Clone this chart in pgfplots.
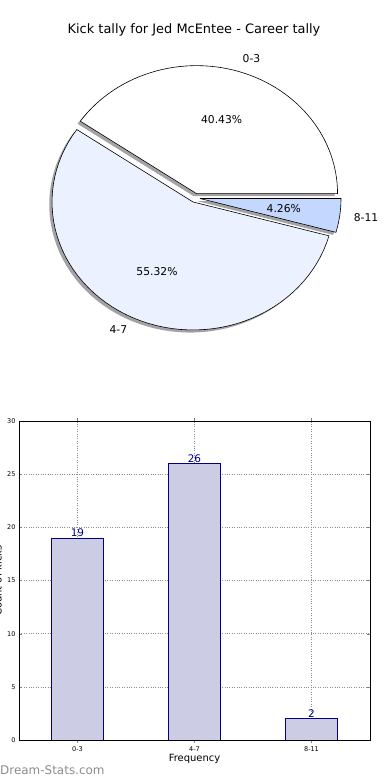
\documentclass[border=0pt]{standalone}
\usepackage{fontspec}
\setmainfont{DejaVu Sans}
\usepackage{pgfplots}
\usepackage{pgfplotstable}
\pgfplotsset{compat=1.18}
\definecolor{wB}{HTML}{EBF1FF}
\definecolor{wC}{HTML}{C4D8FF}
\definecolor{barfill}{HTML}{CCCCE5}
\definecolor{shadowc}{rgb}{0.64,0.64,0.65}
\definecolor{navyc}{HTML}{000080}

\pgfplotstableread{
cat count
0 19
1 26
2 2
}\kicks

% slice: cx cy start end style  (pixel coordinates, y downwards)
\newcommand{\pieslice}[5]{%
  \addplot[#5, domain=0:62, samples=63, variable=\t]
  ({ (\t<0.5 || \t>61.5) ? #1 : #1+141*cos(#3+(\t-1)*(#4-#3)/60) },
   { (\t<0.5 || \t>61.5) ? #2 : #2-128*sin(#3+(\t-1)*(#4-#3)/60) });
}

\begin{document}
\begin{tikzpicture}
\path[use as bounding box] (0,0) rectangle (390bp,780bp);
\clip (0,0) rectangle (390bp,780bp);
\pgfmathsetmacro\nA{19}
\pgfmathsetmacro\nB{26}
\pgfmathsetmacro\nC{2}
\pgfmathsetmacro\tot{\nA+\nB+\nC}
\pgfmathsetmacro\aA{\nA/\tot*360}
\pgfmathsetmacro\aB{(\nA+\nB)/\tot*360}
\begin{axis}[at={(0,0)}, anchor=south west, scale only axis,
  width=390bp, height=780bp, xmin=0, xmax=390, ymin=0, ymax=780,
  y dir=reverse, hide axis, clip=false, no markers]
  % shadows
  \pieslice{193.76}{196.22}{0}{\aA}{fill=shadowc, draw=none}
  \pieslice{190.22}{204.56}{\aA}{\aB}{fill=shadowc, draw=none}
  \pieslice{197.19}{201.10}{\aB}{360}{fill=shadowc, draw=none}
  % wedges
  \pieslice{196.56}{193.62}{0}{\aA}{fill=white, draw=black, line width=0.6bp, line join=miter}
  \pieslice{193.02}{201.96}{\aA}{\aB}{fill=wB, draw=black, line width=0.6bp, line join=miter}
  \pieslice{199.99}{198.50}{\aB}{360}{fill=wC, draw=black, line width=0.6bp, line join=miter}
  % labels
  \node[font=\fontsize{10.8}{12}\selectfont, anchor=west, inner sep=0pt] at (axis cs:242.5,59) {0-3};
  \node[font=\fontsize{10.8}{12}\selectfont, anchor=east, inner sep=0pt] at (axis cs:127.4,329.6) {4-7};
  \node[font=\fontsize{10.8}{12}\selectfont, anchor=west, inner sep=0pt] at (axis cs:353.7,217.7) {8-11};
  \node[font=\fontsize{10.8}{12}\selectfont] at (axis cs:221.6,120) {40.43\%};
  \node[font=\fontsize{10.8}{12}\selectfont] at (axis cs:157,271.6) {55.32\%};
  \node[font=\fontsize{10.8}{12}\selectfont] at (axis cs:283.8,209) {4.26\%};
  \node[font=\fontsize{13}{15}\selectfont] at (axis cs:194,30) {Kick tally for Jed McEntee - Career tally};
  \node[font=\fontsize{12}{14}\selectfont, text=black!45, anchor=west, inner sep=0pt] at (axis cs:0,770) {Dream-Stats.com};
\end{axis}
\begin{axis}[at={(19bp,40bp)}, anchor=south west, scale only axis,
  width=351bp, height=319bp,
  xmin=-0.5, xmax=2.5, ymin=0, ymax=30,
  xtick={0,1,2}, xticklabels={0-3,4-7,8-11}, ytick={0,5,...,30},
  xmajorgrids, ymajorgrids, grid style={dotted, black!45, line width=0.6bp},
  tick label style={font=\fontsize{6.5}{8}\selectfont},
  /pgf/number format/assume math mode=true,
  tick align=inside, major tick length=3bp,
  axis line style={line width=0.7bp},
  ybar, bar width=52bp,
  nodes near coords,
  nodes near coords style={text=navyc, font=\fontsize{10.5}{12}\selectfont, inner sep=1bp},
  xlabel=Frequency,
  xlabel style={at={(axis description cs:0.5,-0.044)}, anchor=north, inner sep=0pt, font=\fontsize{10}{12}\selectfont},
  ylabel=Count of kicks,
  ylabel style={at={(axis description cs:-0.0484,0.5)}, anchor=south, inner sep=0pt, font=\fontsize{10}{12}\selectfont},
  ]
  \addplot[fill=barfill, draw=navyc, line width=0.6bp] table[x=cat, y=count] {\kicks};
\end{axis}
\end{tikzpicture}
\end{document}
